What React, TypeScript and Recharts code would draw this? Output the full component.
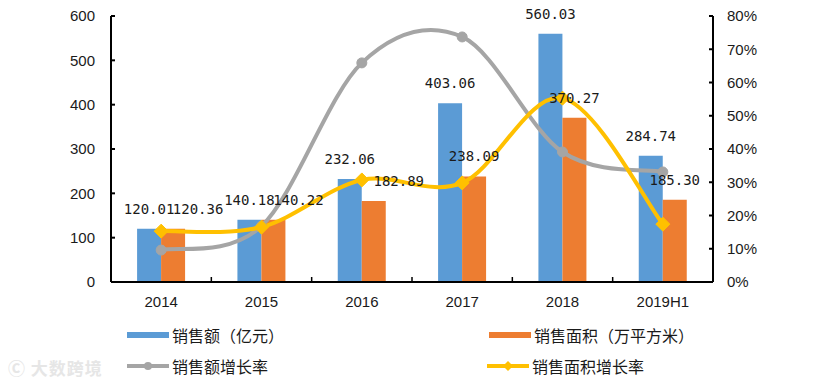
import React from 'react';
import { ComposedChart, Bar, Line, XAxis, YAxis, Legend } from 'recharts';

const categories = ['2014', '2015', '2016', '2017', '2018', '2019H1'];
const salesAmount = [120.01, 140.18, 232.06, 403.06, 560.03, 284.74];
const salesArea = [120.36, 140.22, 182.89, 238.09, 370.27, 185.3];
const amountGrowth = [0.096, 0.168, 0.659, 0.737, 0.391, 0.331];
const areaGrowth = [0.153, 0.165, 0.307, 0.298, 0.553, 0.174];
const leftTicks = [0, 100, 200, 300, 400, 500, 600];
const rightTicks = [0, 0.1, 0.2, 0.3, 0.4, 0.5, 0.6, 0.7, 0.8];

const seriesNames = ['销售额（亿元）', '销售面积（万平方米）', '销售额增长率', '销售面积增长率'];

const data = categories.map((c, i) => ({
  name: c,
  amount: salesAmount[i],
  area: salesArea[i],
  amountG: amountGrowth[i],
  areaG: areaGrowth[i],
}));

const BLUE = '#5B9BD5';
const ORANGE = '#ED7D31';
const GRAY = '#A5A5A5';
const YELLOW = '#FFC000';
const TEXT = '#1a1a1a';
const TICK_MARGIN = 8;
const AXIS_FONT = 'Liberation Sans, Arial, sans-serif';

// Excel-like smoothing curve (Catmull-Rom style Bezier)
function excelCurve(context: any) {
  let pts: number[][] = [];
  return {
    areaStart() {},
    areaEnd() {},
    lineStart() {
      pts = [];
    },
    lineEnd() {
      if (!pts.length) return;
      context.moveTo(pts[0][0], pts[0][1]);
      for (let i = 0; i < pts.length - 1; i++) {
        const p0 = pts[i - 1] || pts[i];
        const p1 = pts[i];
        const p2 = pts[i + 1];
        const p3 = pts[i + 2] || p2;
        const c1x = p1[0] + (p2[0] - p0[0]) / 6;
        const c1y = p1[1] + (p2[1] - p0[1]) / 6;
        const c2x = p2[0] - (p3[0] - p1[0]) / 6;
        const c2y = p2[1] - (p3[1] - p1[1]) / 6;
        context.bezierCurveTo(c1x, c1y, c2x, c2y, p2[0], p2[1]);
      }
    },
    point(x: number, y: number) {
      pts.push([+x, +y]);
    },
  };
}

const XTick = (props: any) => {
  const { x, y, payload, index } = props;
  const axisY = y - TICK_MARGIN;
  const half = (payload && payload.offset) || 50.2;
  return (
    <g>
      {index > 0 && (
        <line x1={x - half} x2={x - half} y1={axisY} y2={axisY - 5} stroke="#000" strokeWidth={1.5} />
      )}
      <text x={x} y={axisY + 25} textAnchor="middle" fill={TEXT} fontSize={15} fontFamily={AXIS_FONT}>
        {payload.value}
      </text>
    </g>
  );
};

const makeLabel = (isArea: boolean) => (props: any) => {
  const { x, y, width, value, index } = props;
  let dx = 0;
  if (isArea && salesAmount[index] - salesArea[index] < 60) dx = 25;
  return (
    <text
      x={x + width / 2 + dx}
      y={y - 15}
      textAnchor="middle"
      fill={TEXT}
      fontSize={14}
      fontFamily="DejaVu Sans Mono, monospace"
    >
      {Number(value).toFixed(2)}
    </text>
  );
};

const Diamond = (props: any) => {
  const { cx, cy } = props;
  if (cx == null || cy == null) return null;
  const s = 7;
  return (
    <polygon
      points={`${cx},${cy - s} ${cx + s},${cy} ${cx},${cy + s} ${cx - s},${cy}`}
      fill={YELLOW}
      stroke={YELLOW}
    />
  );
};

const LegendContent = () => {
  const pos = [
    { left: 127, top: 24 },
    { left: 489, top: 24 },
    { left: 127, top: 55 },
    { left: 487, top: 55 },
  ];
  const colors = [BLUE, ORANGE, GRAY, YELLOW];
  return (
    <div style={{ position: 'relative', width: 836, height: 70 }}>
      {seriesNames.map((n, i) => {
        const p = pos[i];
        const isLine = i >= 2;
        const color = colors[i];
        return (
          <div
            key={n}
            style={{
              position: 'absolute',
              left: p.left,
              top: p.top - 11,
              height: 22,
              display: 'flex',
              alignItems: 'center',
              whiteSpace: 'nowrap',
            }}
          >
            <svg width={44} height={14} style={{ display: 'block' }}>
              {isLine ? (
                <g>
                  <line x1={0} x2={42} y1={7} y2={7} stroke={color} strokeWidth={4} />
                  {i === 2 ? (
                    <circle cx={21} cy={7} r={4} fill={color} />
                  ) : (
                    <polygon points="21,2 26,7 21,12 16,7" fill={color} />
                  )}
                </g>
              ) : (
                <rect x={0} y={4} width={42} height={6} fill={color} />
              )}
            </svg>
            <span
              style={{
                fontFamily: 'Noto Sans CJK SC, sans-serif',
                fontSize: 16,
                color: TEXT,
                marginLeft: 1,
              }}
            >
              {n}
            </span>
          </div>
        );
      })}
    </div>
  );
};

export default function App() {
  return (
    <div style={{ position: 'absolute', left: 0, top: 0, width: 836, height: 381, background: '#fff' }}>
      <ComposedChart
        width={836}
        height={381}
        data={data}
        margin={{ top: 16, right: 63, bottom: 0, left: 51 }}
        barCategoryGap="26%"
        barGap={0}
      >
        <XAxis
          dataKey="name"
          interval={0}
          height={29}
          tickSize={0}
          tickMargin={TICK_MARGIN}
          tickLine={false}
          axisLine={{ stroke: '#000', strokeWidth: 2 }}
          tick={<XTick />}
        />
        <YAxis
          yAxisId="left"
          domain={[0, 600]}
          ticks={leftTicks}
          width={60}
          tickSize={-4}
          tickMargin={20}
          axisLine={{ stroke: '#000', strokeWidth: 2 }}
          tickLine={{ stroke: '#000', strokeWidth: 2 }}
          tick={{ fill: TEXT, fontSize: 15, fontFamily: AXIS_FONT }}
        />
        <YAxis
          yAxisId="right"
          orientation="right"
          domain={[0, 0.8]}
          ticks={rightTicks}
          width={60}
          tickSize={-4}
          tickMargin={18}
          tickFormatter={(v: number) => `${Math.round(v * 100)}%`}
          axisLine={{ stroke: '#000', strokeWidth: 2 }}
          tickLine={{ stroke: '#000', strokeWidth: 2 }}
          tick={{ fill: TEXT, fontSize: 15, fontFamily: AXIS_FONT }}
        />
        <Legend
          verticalAlign="bottom"
          height={70}
          wrapperStyle={{ left: 0, width: 836 }}
          content={<LegendContent />}
        />
        <Bar
          yAxisId="left"
          dataKey="amount"
          name={seriesNames[0]}
          fill={BLUE}
          isAnimationActive={false}
          label={makeLabel(false)}
        />
        <Bar
          yAxisId="left"
          dataKey="area"
          name={seriesNames[1]}
          fill={ORANGE}
          isAnimationActive={false}
          label={makeLabel(true)}
        />
        <Line
          yAxisId="right"
          dataKey="amountG"
          name={seriesNames[2]}
          type={excelCurve as any}
          stroke={GRAY}
          strokeWidth={4}
          dot={{ r: 5, fill: GRAY, stroke: GRAY, strokeWidth: 1 }}
          activeDot={false}
          isAnimationActive={false}
        />
        <Line
          yAxisId="right"
          dataKey="areaG"
          name={seriesNames[3]}
          type={excelCurve as any}
          stroke={YELLOW}
          strokeWidth={4}
          dot={<Diamond />}
          activeDot={false}
          isAnimationActive={false}
        />
      </ComposedChart>
      <div
        style={{
          position: 'absolute',
          left: 8,
          top: 355,
          fontFamily: 'Noto Sans CJK SC, sans-serif',
          fontSize: 17,
          fontWeight: 700,
          color: '#e6e6e6',
          letterSpacing: 1,
        }}
      >
        Ⓒ 大数跨境
      </div>
    </div>
  );
}
